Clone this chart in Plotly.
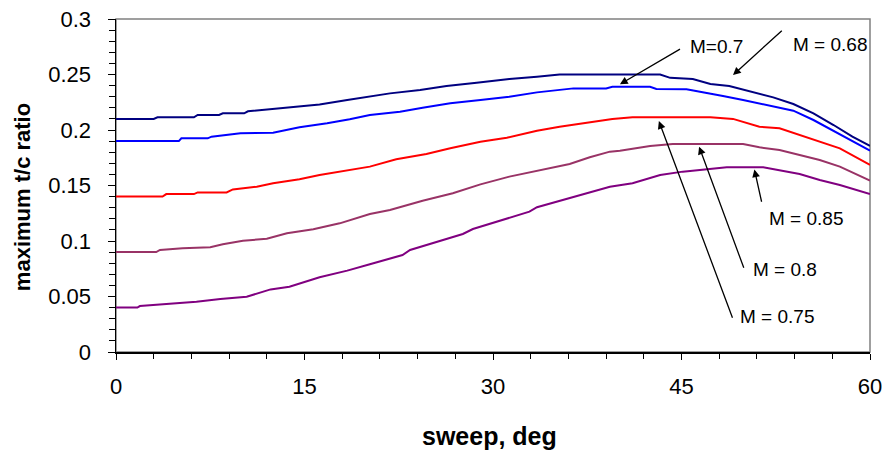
import plotly.graph_objects as go

# ---- data (sweep in deg, max t/c ratio) ----
m068_x = [0, 3, 3.3, 6.2, 6.5, 8.2, 8.5, 10.2, 10.5, 12.6, 13.8, 16.2, 18.4, 20.2, 21.8, 24.2, 26.3, 28.7, 31.3, 33.5, 35.3,
          43.3, 44.1, 45.9, 47.3, 48.8, 50.4, 52.3, 53.9, 55.5, 57.1, 58.6, 60]
m068_y = [0.21, 0.21, 0.2114, 0.2114, 0.2135, 0.2135, 0.215, 0.215, 0.2168, 0.219, 0.2204, 0.223, 0.227, 0.230, 0.233, 0.236,
          0.2396, 0.2426, 0.246, 0.248, 0.250, 0.250, 0.247, 0.246, 0.2414, 0.2396, 0.235, 0.2294, 0.2234, 0.215, 0.2045,
          0.194, 0.1856]

m070_x = [0, 5, 5.2, 7.3, 7.6, 9.9, 12.5, 14.6, 16.8, 18.6, 20.2, 22.6, 24.4, 26.6, 29, 31.3, 33.5, 36.4, 39, 39.5, 42.5,
          43, 45.4, 46.5, 48.3, 49.9, 51.8, 53.9, 55.5, 57.1, 58.6, 60]
m070_y = [0.19, 0.19, 0.1925, 0.1925, 0.194, 0.197, 0.1976, 0.2024, 0.206, 0.2096, 0.2135, 0.2165, 0.220, 0.224, 0.227,
          0.230, 0.2339, 0.2375, 0.2375, 0.239, 0.239, 0.237, 0.2366, 0.2345, 0.2306, 0.227, 0.2225, 0.2174, 0.209, 0.199,
          0.1895, 0.1814]

m075_x = [0, 3.7, 4, 6.2, 6.5, 8.8, 9.3, 11.2, 12.5, 14.6, 16.2, 18.4, 20.2, 22.3, 24.7, 26.6, 29, 31.1, 33.5, 35.3, 37.4,
          39.5, 41.1, 47.3, 49.1, 51.2, 52.8, 54.4, 56, 57.6, 60]
m075_y = [0.14, 0.14, 0.1423, 0.1423, 0.1438, 0.1438, 0.1465, 0.1489, 0.152, 0.1556, 0.1595, 0.1633, 0.167, 0.1736, 0.1784,
          0.1835, 0.1895, 0.193, 0.1994, 0.203, 0.2066, 0.2099, 0.2114, 0.2114, 0.210, 0.203, 0.2015, 0.1955, 0.1895,
          0.1835, 0.1685]

m080_x = [0, 3.2, 3.5, 5.3, 7.5, 8.5, 10.1, 12, 13.6, 15.7, 17.8, 20.2, 21.8, 24.4, 26.8, 29, 31.3, 34, 36.1, 37.7, 39.3,
          40.1, 42.5, 44.3, 49.9, 51.2, 52.8, 54.4, 56, 57.6, 60]
m080_y = [0.09, 0.09, 0.0919, 0.0934, 0.0943, 0.097, 0.1003, 0.102, 0.1069, 0.1105, 0.1159, 0.1243, 0.128, 0.1363, 0.143,
          0.151, 0.158, 0.1646, 0.1694, 0.1754, 0.1805, 0.1814, 0.1856, 0.1874, 0.1874, 0.1844, 0.182, 0.1775, 0.173,
          0.167, 0.1544]

m085_x = [0, 1.7, 1.9, 3.9, 6.4, 8.3, 10.4, 12.3, 13.8, 16.2, 18.4, 20.2, 22.8, 23.4, 25.5, 27.6, 28.4, 30.8, 32.9, 33.5,
          36.1, 37.5, 39.3, 41.1, 43.3, 45.1, 47.3, 48.6, 51.5, 52.8, 54.4, 56, 57.6, 60]
m085_y = [0.04, 0.04, 0.0414, 0.043, 0.0453, 0.0477, 0.0498, 0.0564, 0.0588, 0.0673, 0.0733, 0.079, 0.0874, 0.0919, 0.0994,
          0.1063, 0.1108, 0.1189, 0.1264, 0.1304, 0.1385, 0.1435, 0.1489, 0.152, 0.1595, 0.1625, 0.1646, 0.1664, 0.1664,
          0.164, 0.1604, 0.155, 0.1505, 0.1423]

series = [
    ("M = 0.68", m068_x, m068_y, "#000080"),
    ("M = 0.7", m070_x, m070_y, "#0000FF"),
    ("M = 0.75", m075_x, m075_y, "#FF0000"),
    ("M = 0.8", m080_x, m080_y, "#993366"),
    ("M = 0.85", m085_x, m085_y, "#800080"),
]

# label text, text anchor (x, y), arrow tail (x, y), arrow head (x, y)
labels = [
    ("M=0.7", 45.5, 0.275, 45.0, 0.2736, 40.1, 0.2412),
    ("M = 0.68", 53.7, 0.2766, 53.1, 0.2907, 49.1, 0.2495),
    ("M = 0.85", 51.8, 0.1207, 51.4, 0.134, 50.8, 0.1645),
    ("M = 0.8", 50.5, 0.0739, 50.0, 0.0745, 46.4, 0.1850),
    ("M = 0.75", 49.5, 0.0318, 49.1, 0.0295, 43.2, 0.2080),
]

FONT = "Liberation Sans, Arial"

fig = go.Figure()
for name, xs, ys, col in series:
    fig.add_trace(go.Scatter(x=xs, y=ys, mode="lines", name=name,
                             line=dict(color=col, width=2), showlegend=False))

annotations = []
for txt, tx, ty, ax, ay, hx, hy in labels:
    annotations.append(dict(x=tx, y=ty, xref="x", yref="y", text=txt, showarrow=False,
                            xanchor="left", yanchor="middle",
                            font=dict(family=FONT, size=19, color="black")))
    annotations.append(dict(x=hx, y=hy, xref="x", yref="y", ax=ax, ay=ay, axref="x", ayref="y",
                            text="", showarrow=True, arrowhead=2, arrowsize=1.2, arrowwidth=1.3,
                            arrowcolor="black"))

# axis titles
annotations.append(dict(x=-0.1247, y=0.465, xref="paper", yref="paper", text="<b>maximum t/c ratio</b>",
                        showarrow=False, textangle=-90, xanchor="center", yanchor="middle",
                        font=dict(family=FONT, size=22, color="black")))
annotations.append(dict(x=0.496, y=-0.252, xref="paper", yref="paper", text="<b>sweep, deg</b>",
                        showarrow=False, xanchor="center", yanchor="middle",
                        font=dict(family=FONT, size=25, color="black")))

fig.update_layout(
    width=886, height=451,
    margin=dict(l=116, r=16, t=19, b=99, autoexpand=False),
    paper_bgcolor="white", plot_bgcolor="white",
    font=dict(family=FONT, size=22, color="black"),
    annotations=annotations,
    shapes=[dict(type="rect", xref="paper", yref="paper", x0=0, y0=0, x1=1, y1=1,
                 line=dict(color="#808080", width=1.5), layer="below")],
)
fig.update_xaxes(range=[0, 60], dtick=15, tick0=0, showgrid=False, zeroline=False, automargin=False,
                 showline=True, linecolor="black", linewidth=1.5,
                 ticks="outside", ticklen=6, tickcolor="black", tickwidth=1,
                 minor=dict(dtick=3, ticks="outside", ticklen=5, tickcolor="black", tickwidth=1),
                 tickfont=dict(size=22), ticklabelstandoff=8)
fig.update_yaxes(range=[0, 0.3], dtick=0.05, tick0=0, showgrid=False, zeroline=False, automargin=False,
                 showline=True, linecolor="black", linewidth=1.5,
                 ticks="outside", ticklen=7, tickcolor="black", tickwidth=1,
                 minor=dict(dtick=0.01, ticks="outside", ticklen=6, tickcolor="black", tickwidth=1),
                 tickfont=dict(size=22), tickformat="~g", ticklabelstandoff=12)

fig.write_html("out.html", config={"displayModeBar": False, "staticPlot": True},
               post_script="document.body.style.margin='0';document.body.style.overflow='hidden';")
